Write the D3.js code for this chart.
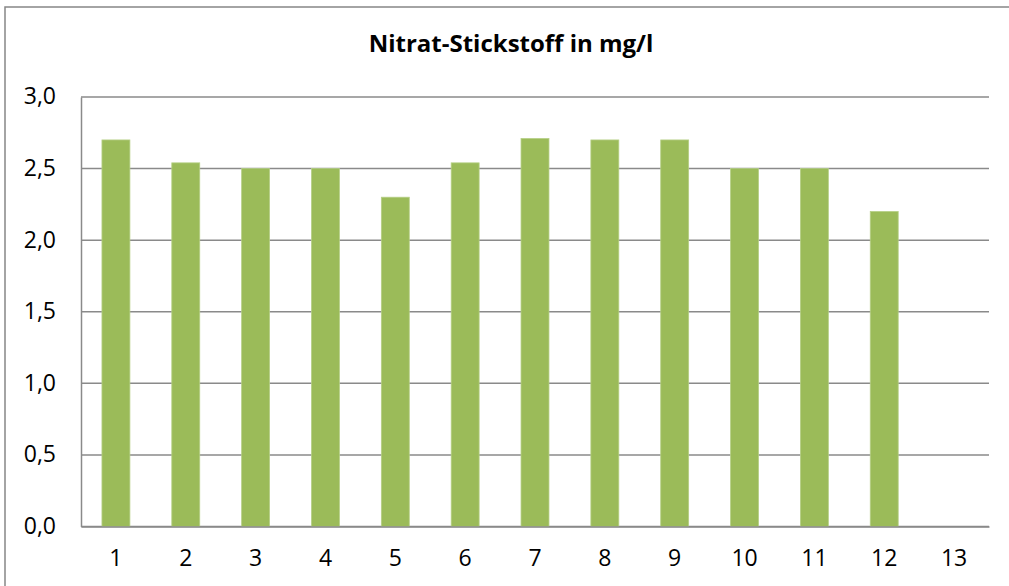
<!DOCTYPE html>
<html>
<head>
<meta charset="utf-8">
<script src="https://cdn.jsdelivr.net/npm/d3@7"></script>
<style>
  body { margin: 0; background: #fff; }
  text { font-family: "Open Sans", Lato, sans-serif; fill: #000; }
</style>
</head>
<body>
<div id="container"></div>
<script>
const categories = ["1", "2", "3", "4", "5", "6", "7", "8", "9", "10", "11", "12", "13"];
const values = [2.7, 2.54, 2.5, 2.5, 2.3, 2.54, 2.71, 2.7, 2.7, 2.5, 2.5, 2.2, null];
const yTicks = [0, 0.5, 1, 1.5, 2, 2.5, 3];
const title = "Nitrat-Stickstoff in mg/l";

const width = 1009;
const height = 586;
const margin = { top: 97, right: 20, bottom: 60, left: 81 };

const svg = d3
  .select("#container")
  .append("svg")
  .attr("width", width)
  .attr("height", height);

// chart frame (runs off the right/bottom edge like the original)
svg
  .append("rect")
  .attr("x", 5)
  .attr("y", 7)
  .attr("width", 1020)
  .attr("height", 600)
  .attr("fill", "none")
  .attr("stroke", "#878787")
  .attr("stroke-width", 1.5);

const x = d3
  .scaleBand()
  .domain(categories)
  .range([margin.left, 989])
  .paddingInner(0.6)
  .paddingOuter(0.3);

const y = d3.scaleLinear().domain([0, 3]).range([526.5, margin.top]);

// gridlines
svg
  .append("g")
  .selectAll("line")
  .data(yTicks)
  .enter()
  .append("line")
  .attr("x1", margin.left)
  .attr("x2", 989)
  .attr("y1", (d) => y(d))
  .attr("y2", (d) => y(d))
  .attr("stroke", "#8a8a8a")
  .attr("stroke-width", 1.5);

// bars
svg
  .append("g")
  .selectAll("rect")
  .data(values.map((v, i) => ({ c: categories[i], v })).filter((d) => d.v != null))
  .enter()
  .append("rect")
  .attr("x", (d) => x(d.c))
  .attr("y", (d) => y(d.v))
  .attr("width", x.bandwidth())
  .attr("height", (d) => y(0) - y(d.v))
  .attr("fill", "#9bbb59")
  .attr("stroke", "#b5cf85")
  .attr("stroke-width", 0.8);

// y axis
const yAxis = d3
  .axisLeft(y)
  .tickValues(yTicks)
  .tickSize(0)
  .tickPadding(25)
  .tickFormat((d) => d3.format(".1f")(d).replace(".", ","));

const yg = svg.append("g").attr("transform", `translate(${margin.left},0)`).call(yAxis);
yg.select(".domain").attr("stroke", "#8a8a8a").attr("stroke-width", 1.5);
yg.selectAll("text").style("font-size", "23px").attr("dy", "0.3em");

// x axis
const xAxis = d3.axisBottom(x).tickSize(0).tickPadding(23);
const xg = svg.append("g").attr("transform", `translate(0,${y(0)})`).call(xAxis);
xg.select(".domain").attr("stroke", "#8a8a8a").attr("stroke-width", 1.5);
xg.selectAll("text").style("font-size", "23px");

// title
svg
  .append("text")
  .attr("x", 511)
  .attr("y", 52)
  .attr("text-anchor", "middle")
  .style("font-size", "24px")
  .style("font-weight", "bold")
  .text(title);
</script>
</body>
</html>
